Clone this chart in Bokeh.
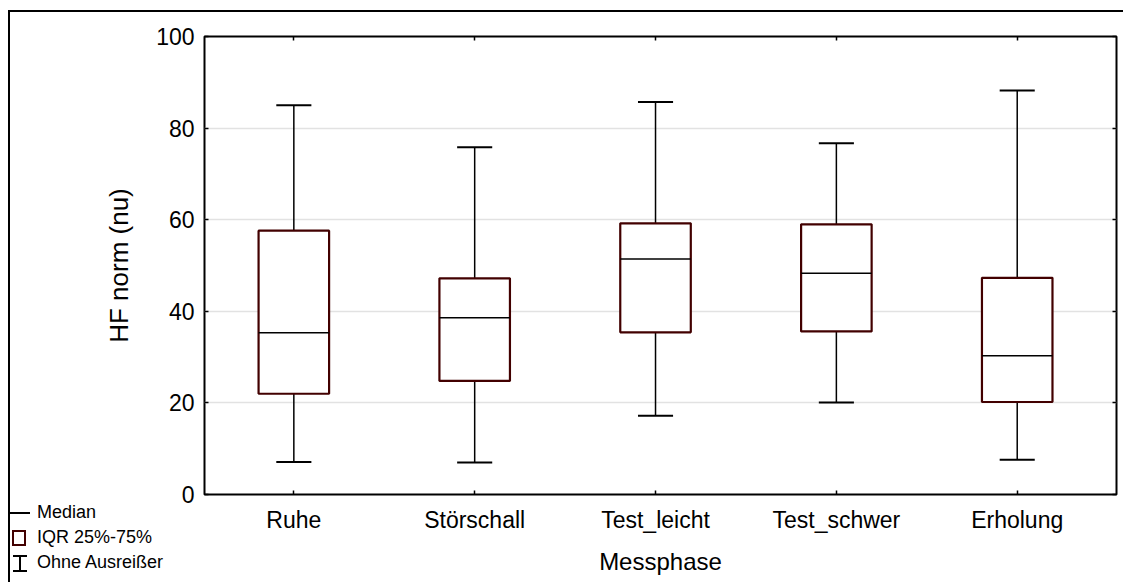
import numpy as np
from bokeh.plotting import figure
from bokeh.layouts import column
from bokeh.models import (ColumnDataSource, Range1d, FixedTicker, LinearAxis, Div)
from bokeh.embed import file_html
from bokeh.resources import INLINE

# ---- data ----
phases = ["Ruhe", "Störschall", "Test_leicht", "Test_schwer", "Erholung"]
whisker_low = [7.1, 7.0, 17.2, 20.1, 7.6]
q1 = [22.0, 24.8, 35.4, 35.6, 20.2]
median = [35.3, 38.6, 51.4, 48.3, 30.3]
q3 = [57.6, 47.2, 59.2, 59.0, 47.3]
whisker_high = [85.0, 75.8, 85.7, 76.7, 88.2]
y_ticks = [0, 20, 40, 60, 80, 100]
legend_labels = ["Median", "IQR 25%-75%", "Ohne Ausreißer"]
x_label = "Messphase"
y_label = "HF norm (nu)"

FONT = "Liberation Sans"
BOX_COLOR = "#420000"
BOX_HALF = 0.195
CAP_HALF = 0.097

pos = np.arange(1, len(phases) + 1)
src = ColumnDataSource(dict(
    x=pos, left=pos - BOX_HALF, right=pos + BOX_HALF,
    cl=pos - CAP_HALF, cr=pos + CAP_HALF,
    lo=whisker_low, q1=q1, med=median, q3=q3, hi=whisker_high,
))

p = figure(width=1115, height=572, title=None,
           x_range=Range1d(0.506, 5.549), y_range=Range1d(0, 100),
           output_backend="svg", toolbar_location=None,
           min_border_left=194, min_border_right=9,
           min_border_top=24, min_border_bottom=90)
p.styles = {"margin-top": "10px", "margin-left": "8px",
            "border-top": "2px solid black", "border-left": "2px solid black"}
p.background_fill_color = "white"
p.border_fill_color = "white"
p.outline_line_color = "black"
p.outline_line_width = 2

xt = FixedTicker(ticks=list(pos))
yt = FixedTicker(ticks=y_ticks)
overrides = {int(i): n for i, n in zip(pos, phases)}

def style_axis(ax, ticker, show_labels):
    ax.ticker = ticker
    ax.axis_line_color = None
    ax.major_tick_in = 4
    ax.major_tick_out = 0
    ax.major_tick_line_color = "black"
    ax.major_tick_line_width = 1.5
    ax.minor_tick_line_color = None
    ax.major_label_text_font = FONT
    ax.major_label_text_color = "black"
    ax.axis_label_text_font = FONT
    ax.axis_label_text_font_style = "normal"
    ax.axis_label_text_color = "black"
    if not show_labels:
        ax.major_label_text_color = None
        ax.major_label_standoff = 0

xa = p.xaxis[0]
ya = p.yaxis[0]
style_axis(xa, xt, True)
style_axis(ya, yt, True)
xa.major_label_overrides = overrides
xa.major_label_text_font_size = "23px"
ya.major_label_text_font_size = "23px"
xa.major_label_standoff = 12
ya.major_label_standoff = 10
xa.axis_label = x_label
ya.axis_label = y_label
xa.axis_label_text_font_size = "24px"
ya.axis_label_text_font_size = "26px"
xa.axis_label_standoff = 12
ya.axis_label_standoff = 19

top_ax = LinearAxis()
right_ax = LinearAxis()
style_axis(top_ax, xt, False)
style_axis(right_ax, yt, False)
p.add_layout(top_ax, "above")
p.add_layout(right_ax, "right")

p.xgrid.visible = False
p.ygrid.ticker = yt
p.ygrid.grid_line_color = "#e2e2e2"
p.ygrid.grid_line_width = 1.5

# whiskers and caps
p.segment(x0="x", y0="lo", x1="x", y1="hi", source=src, line_color="black", line_width=1.5)
p.segment(x0="cl", y0="hi", x1="cr", y1="hi", source=src, line_color="black", line_width=2)
p.segment(x0="cl", y0="lo", x1="cr", y1="lo", source=src, line_color="black", line_width=2)
# boxes
p.quad(left="left", right="right", bottom="q1", top="q3", source=src,
       fill_color="white", line_color=BOX_COLOR, line_width=2.2)
# medians
p.segment(x0="left", y0="med", x1="right", y1="med", source=src,
          line_color="black", line_width=1.5)

# ---- legend key in the bottom-left corner (HTML overlay) ----
row = "display:flex;align-items:center;height:25px;white-space:nowrap;"
slot = "display:inline-block;position:relative;width:20px;height:20px;flex:none;"
txt = "margin-left:7px;"
base = "position:absolute;box-sizing:border-box;display:block;"
sym_median = f"<span style='{base}left:0;top:9px;width:20px;height:2px;background:black;'></span>"
sym_iqr = (f"<span style='{base}left:2px;top:2px;width:14px;height:16px;"
           f"border:2px solid {BOX_COLOR};background:white;'></span>")
sym_whisk = (f"<span style='{base}left:3px;top:2px;width:14px;height:17px;"
             "border-top:2px solid black;border-bottom:2px solid black;"
             "background:linear-gradient(to right, transparent 6px, black 6px, black 8px, transparent 8px);'></span>")
symbols = [sym_median, sym_iqr, sym_whisk]
html = f"<div style=\"font-family:'{FONT}';font-size:18px;color:black;\">"
for s, lab in zip(symbols, legend_labels):
    html += f"<div style='{row}'><span style='{slot}'>{s}</span><span style='{txt}'>{lab}</span></div>"
html += "</div>"
key = Div(text=html, width=180, height=78, margin=(0, 0, 0, 0),
          styles={"position": "absolute", "left": "10px", "top": "500px"})

page = column(p, key)
open("out.html", "w").write(file_html(page, INLINE))
